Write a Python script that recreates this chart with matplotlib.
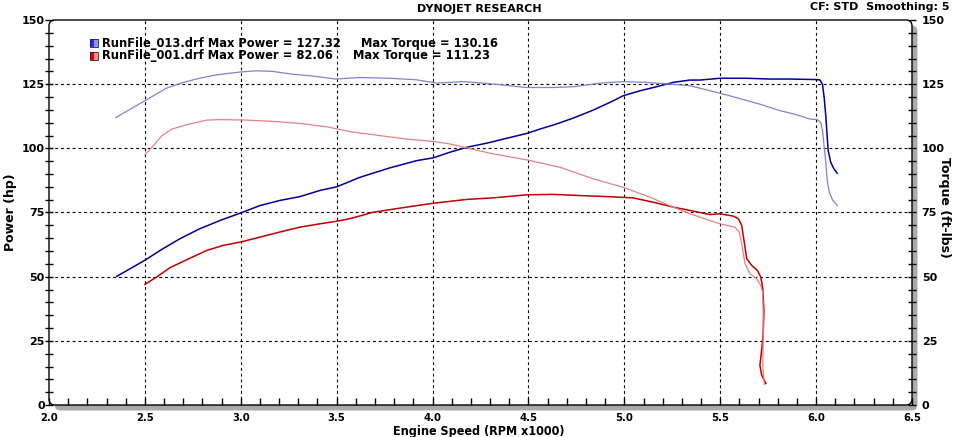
import matplotlib
matplotlib.use("Agg")
import matplotlib.pyplot as plt
from matplotlib.patches import FancyBboxPatch, Rectangle
from matplotlib.ticker import MultipleLocator

# ---------------- data ----------------
rpm_pow_013 = [2.353, 2.500, 2.579, 2.683, 2.787, 2.892, 2.999, 3.100, 3.204, 3.309, 3.413, 3.500,
               3.621, 3.778, 3.917, 4.004, 4.091, 4.178, 4.282, 4.369, 4.491, 4.560, 4.647, 4.734,
               4.838, 4.942, 4.994, 5.081, 5.168, 5.255, 5.342, 5.394, 5.498, 5.638, 5.759, 5.863,
               5.994, 6.019, 6.033, 6.042, 6.051, 6.058, 6.063, 6.076, 6.093, 6.110]
hp_013 = [50.1, 56.4, 60.2, 64.8, 68.7, 71.9, 74.8, 77.7, 79.7, 81.2, 83.6, 85.0,
          88.7, 92.4, 95.2, 96.3, 98.5, 100.4, 102.0, 103.6, 105.8, 107.5, 109.5, 111.8,
          114.9, 118.5, 120.5, 122.4, 124.0, 125.7, 126.6, 126.6, 127.3, 127.3, 127.0, 127.0,
          126.8, 126.7, 125.0, 119.8, 112.1, 104.3, 99.1, 94.6, 92.0, 90.3]

rpm_tq_013 = [2.348, 2.499, 2.611, 2.696, 2.784, 2.871, 2.992, 3.079, 3.164, 3.268, 3.371, 3.495,
              3.621, 3.778, 3.917, 4.022, 4.160, 4.264, 4.351, 4.490, 4.629, 4.734, 4.873, 4.994,
              5.116, 5.238, 5.342, 5.498, 5.602, 5.707, 5.811, 5.898, 5.968, 6.006, 6.024, 6.034,
              6.042, 6.050, 6.058, 6.069, 6.086, 6.110]
tq_013 = [112.0, 118.5, 123.4, 125.6, 127.3, 128.6, 129.7, 130.2, 130.0, 128.9, 128.2, 127.0,
          127.6, 127.3, 126.7, 125.4, 126.0, 125.4, 124.8, 123.7, 123.7, 124.0, 125.4, 126.0,
          125.7, 125.0, 124.4, 121.5, 119.4, 117.2, 114.7, 113.1, 111.4, 111.2, 110.1, 106.9,
          100.4, 95.2, 87.4, 82.9, 79.9, 77.7]

rpm_pow_001 = [2.500, 2.562, 2.631, 2.718, 2.822, 2.909, 2.999, 3.100, 3.204, 3.309, 3.413, 3.500,
               3.569, 3.691, 3.865, 4.004, 4.178, 4.316, 4.491, 4.629, 4.768, 4.908, 5.046, 5.151,
               5.255, 5.342, 5.446, 5.498, 5.568, 5.594, 5.612, 5.624, 5.638, 5.664, 5.693, 5.711,
               5.721, 5.728, 5.724, 5.716, 5.707, 5.716, 5.738]
hp_001 = [47.0, 49.9, 53.5, 56.6, 60.2, 62.2, 63.5, 65.4, 67.4, 69.3, 70.6, 71.6,
          72.6, 75.1, 77.1, 78.6, 80.1, 80.7, 81.9, 82.06, 81.6, 81.2, 80.7, 79.0,
          77.1, 75.8, 74.2, 74.5, 73.6, 72.6, 70.0, 64.1, 57.0, 54.4, 52.5, 49.9,
          46.0, 36.9, 27.9, 21.4, 15.5, 11.7, 8.4]

rpm_tq_001 = [2.500, 2.544, 2.588, 2.640, 2.718, 2.822, 2.892, 3.031, 3.168, 3.309, 3.448, 3.569,
              3.691, 3.865, 4.004, 4.091, 4.178, 4.299, 4.491, 4.665, 4.838, 4.994, 5.133, 5.255,
              5.342, 5.498, 5.576, 5.599, 5.612, 5.629, 5.655, 5.690, 5.711, 5.721, 5.724, 5.724,
              5.722, 5.730]
tq_001 = [97.5, 101.0, 104.9, 107.5, 109.2, 111.0, 111.2, 111.0, 110.5, 109.7, 108.4, 106.5,
          105.3, 103.6, 102.7, 101.7, 100.2, 98.1, 95.5, 92.6, 88.1, 84.8, 81.0, 77.1,
          74.5, 70.6, 69.3, 67.4, 62.8, 55.1, 51.2, 49.2, 46.6, 44.0, 36.9, 25.3,
          15.0, 8.0]

x_ticks = [2.0, 2.5, 3.0, 3.5, 4.0, 4.5, 5.0, 5.5, 6.0, 6.5]
y_ticks = [0, 25, 50, 75, 100, 125, 150]

legend_rows = [
    ("RunFile_013.drf Max Power = 127.32", "Max Torque = 130.16"),
    ("RunFile_001.drf Max Power = 82.06", "Max Torque = 111.23"),
]

# ---------------- styles ----------------
C_BLUE_P = "#000096"
C_BLUE_T = "#8282d2"
C_RED_P = "#be0000"
C_RED_T = "#e68282"

W, H = 959, 437
fig = plt.figure(figsize=(W / 100, H / 100), dpi=100)
L, R, T, B = 49, 912, 20, 405
ax = fig.add_axes([L / W, 1 - B / H, (R - L) / W, (B - T) / H])
ax2 = ax.twinx()

ax.set_xlim(2.0, 6.5)
ax.set_ylim(0, 150)
ax2.set_ylim(0, 150)

for a in (ax, ax2):
    for s in a.spines.values():
        s.set_visible(False)
ax2.patch.set_visible(False)

# grid
for xv in x_ticks[1:-1]:
    ax.axvline(xv, color="black", lw=0.8, ls=(0, (2.6, 2.6)), zorder=1)
for yv in y_ticks[1:-1]:
    ax.axhline(yv, color="black", lw=0.8, ls=(0, (2.6, 2.6)), zorder=1)

# curves
ax2.plot(rpm_tq_013, tq_013, color=C_BLUE_T, lw=0.9, zorder=3)
ax2.plot(rpm_tq_001, tq_001, color=C_RED_T, lw=0.9, zorder=3)
ax.plot(rpm_pow_013, hp_013, color=C_BLUE_P, lw=1.1, zorder=4)
ax.plot(rpm_pow_001, hp_001, color=C_RED_P, lw=1.1, zorder=4)
ax.set_zorder(2)
ax2.set_zorder(3)

tick_font = dict(family="DejaVu Sans", weight="bold", size=8)

ax.set_xticks(x_ticks)
ax.set_xticklabels([f"{v:.1f}" for v in x_ticks], fontdict=dict(tick_font, stretch="condensed"))
ax.xaxis.set_minor_locator(MultipleLocator(0.1))
ax.tick_params(axis="x", which="both", direction="in", length=5, width=1, pad=6, colors="black")

ax.set_yticks(y_ticks)
ax.set_yticklabels([str(v) for v in y_ticks], fontdict=tick_font)
ax.yaxis.set_minor_locator(MultipleLocator(5))
ax.tick_params(axis="y", which="both", direction="inout", length=6, width=1, pad=0)

ax2.set_yticks(y_ticks)
ax2.set_yticklabels([str(v) for v in y_ticks], fontdict=tick_font)
ax2.yaxis.set_minor_locator(MultipleLocator(5))
ax2.tick_params(axis="y", which="both", direction="inout", length=6, width=1, pad=4)

# frame with rounded corners and shadow (inch coordinates)
x0, y0 = L / 100, (H - B) / 100
w, h = (R - L) / 100, (B - T) / 100
shadow = FancyBboxPatch((x0 + 0.055, y0 - 0.055), w, h,
                        boxstyle="round,pad=0,rounding_size=0.06",
                        transform=fig.dpi_scale_trans, facecolor="#aaaaaa",
                        edgecolor="none", zorder=-5)
fig.patches.append(shadow)
inner = FancyBboxPatch((x0, y0), w, h, boxstyle="round,pad=0,rounding_size=0.06",
                       transform=fig.dpi_scale_trans, facecolor="white",
                       edgecolor="none", zorder=-4)
fig.patches.append(inner)
ax.patch.set_visible(False)
frame = FancyBboxPatch((x0, y0), w, h, boxstyle="round,pad=0,rounding_size=0.06",
                       transform=fig.dpi_scale_trans, facecolor="none",
                       edgecolor="black", lw=1.0, zorder=10)
fig.patches.append(frame)

# axis labels
lab_font = dict(family="DejaVu Sans", weight="bold", size=9)
fig.text(11 / W, 1 - 212 / H, "Power (hp)", rotation=90, ha="center", va="center", **lab_font)
fig.text(945 / W, 1 - 207 / H, "Torque (ft-lbs)", rotation=270, ha="center", va="center", **lab_font)
fig.text(479 / W, 1 - 431 / H, "Engine Speed (RPM x1000)", ha="center", va="center",
         stretch="condensed", **lab_font)

# titles
fig.text(479 / W, 1 - 9 / H, "DYNOJET RESEARCH", ha="center", va="center",
         family="DejaVu Sans", weight="bold", size=8)
fig.text(950 / W, 1 - 7 / H, "CF: STD  Smoothing: 5", ha="right", va="center",
         family="DejaVu Sans", weight="bold", size=8)

# legend
sq = [(C_BLUE_P, "#2828ff", "#9090ff"), (C_RED_P, "#e00000", "#ff8c8c")]
row_y = [43, 56]
torque_x = [361, 353]
for i, ((txt1, txt2), (ec, c1, c2)) in enumerate(zip(legend_rows, sq)):
    yc = row_y[i]
    fig.patches.append(Rectangle((90 / 100, (H - yc - 4) / 100), 0.04, 0.08,
                                 transform=fig.dpi_scale_trans, facecolor=c1,
                                 edgecolor="none", zorder=11))
    fig.patches.append(Rectangle((94 / 100, (H - yc - 4) / 100), 0.04, 0.08,
                                 transform=fig.dpi_scale_trans, facecolor=c2,
                                 edgecolor="none", zorder=11))
    fig.patches.append(Rectangle((90 / 100, (H - yc - 4) / 100), 0.08, 0.08,
                                 transform=fig.dpi_scale_trans, facecolor="none",
                                 edgecolor="#202020", lw=0.6, zorder=12))
    fig.text(102 / W, 1 - yc / H, txt1, ha="left", va="center",
             family="DejaVu Sans", weight="bold", size=8.3, zorder=12)
    fig.text(torque_x[i] / W, 1 - yc / H, txt2, ha="left", va="center",
             family="DejaVu Sans", weight="bold", size=8.3, zorder=12)

fig.savefig("out.png", dpi=100)
